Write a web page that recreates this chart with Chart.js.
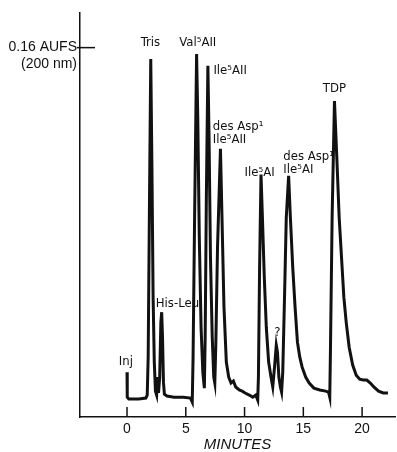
<!DOCTYPE html>
<html>
<head>
<meta charset="utf-8">
<script src="https://cdn.jsdelivr.net/npm/chart.js@4.4.0/dist/chart.umd.min.js"></script>
<style>
html, body { margin: 0; padding: 0; background: #fff; }
#wrap { width: 397px; height: 452px; position: relative; }
</style>
</head>
<body>
<div id="wrap"><canvas id="hplcChart"></canvas></div>
<script>
// retention time (min) and detector response (AU at 200 nm)
var minutes = [0.00,0.02,0.15,1.00,1.60,1.72,1.80,1.90,2.02,2.12,2.22,2.32,2.42,2.52,2.60,2.68,2.78,2.88,2.95,3.02,
	3.10,3.18,3.40,4.00,4.80,5.40,5.55,5.62,5.75,5.92,6.02,6.15,6.30,6.45,6.58,6.65,6.75,6.88,6.98,7.10,
	7.25,7.38,7.47,7.55,7.70,7.95,8.08,8.25,8.45,8.65,8.85,9.05,9.25,9.55,9.80,10.05,10.40,10.70,10.95,11.12,
	11.18,11.28,11.40,11.52,11.68,11.85,12.05,12.25,12.40,12.55,12.70,12.80,12.92,13.05,13.15,13.25,13.40,13.55,13.75,13.90,
	14.10,14.30,14.50,14.70,14.90,15.20,15.50,15.90,16.40,16.90,17.15,17.25,17.30,17.45,17.65,17.85,18.05,18.25,18.45,18.65,
	18.90,19.20,19.50,19.80,20.10,20.40,20.70,21.00,21.40,21.80,22.20];
var absorbance = [0.0194,0.0086,0.0078,0.0078,0.0082,0.0095,0.0259,0.0864,0.1551,0.1080,0.0518,0.0238,0.0112,0.0095,0.0173,0.0104,0.0173,0.0410,0.0454,0.0346,
	0.0151,0.0099,0.0091,0.0086,0.0086,0.0082,0.0065,0.0259,0.0864,0.1572,0.1296,0.0778,0.0389,0.0194,0.0125,0.0346,0.0950,0.1521,0.1210,0.0691,
	0.0346,0.0173,0.0147,0.0302,0.0734,0.1162,0.0864,0.0475,0.0238,0.0173,0.0147,0.0156,0.0130,0.0117,0.0112,0.0104,0.0095,0.0086,0.0095,0.0073,
	0.0173,0.0648,0.1050,0.0864,0.0605,0.0389,0.0238,0.0173,0.0130,0.0216,0.0311,0.0281,0.0173,0.0130,0.0108,0.0194,0.0518,0.0864,0.1045,0.0864,
	0.0648,0.0475,0.0324,0.0259,0.0216,0.0173,0.0147,0.0125,0.0117,0.0112,0.0108,0.0086,0.0259,0.0864,0.1369,0.1123,0.0864,0.0691,0.0518,0.0410,
	0.0302,0.0225,0.0181,0.0164,0.0160,0.0160,0.0147,0.0130,0.0112,0.0104,0.0104];

var xTickValues = [0, 5, 10, 15, 20];
var aufsValue = 0.16;
var aufsLabel = ['0.16 AUFS', '(200 nm)'];

// peak names and where they sit (min, AU)
var peakNames = [['Tris'], ['Val\u2075AII'], ['Ile\u2075AII'], ['des Asp\u00b9', 'Ile\u2075AII'], ['Ile\u2075AI'],
	['des Asp\u00b9', 'Ile\u2075AI'], ['TDP'], ['His-Leu'], ['Inj'], ['?']];
var peakNameTimes = [2.0, 4.45, 7.35, 7.3, 10.0, 13.3, 17.65, 2.45, -0.1, 12.8];
var peakNameLevels = [0.162, 0.162, 0.150, 0.1258, 0.1058, 0.1127, 0.1421, 0.0492, 0.0238, 0.0367];
var peakNameAlign = ['center', 'left', 'left', 'left', 'left', 'left', 'center', 'left', 'center', 'center'];

var points = [];
for (var i = 0; i < minutes.length; i++) {
	points.push({x: minutes[i], y: absorbance[i]});
}

var labelFont = '13px "Liberation Sans Narrow", "DejaVu Sans Condensed", "Liberation Sans", sans-serif';

var decorPlugin = {
	id: 'decor',
	afterDraw: function(chart) {
		var ctx = chart.ctx;
		var xs = chart.scales.x;
		var ys = chart.scales.y;
		var area = chart.chartArea;
		ctx.save();
		ctx.strokeStyle = '#111';
		ctx.lineWidth = 1.5;
		// inward x ticks
		xTickValues.forEach(function(v) {
			var px = xs.getPixelForValue(v);
			ctx.beginPath();
			ctx.moveTo(px, area.bottom);
			ctx.lineTo(px, area.bottom - 10);
			ctx.stroke();
		});
		// full scale mark
		var py = ys.getPixelForValue(aufsValue);
		ctx.beginPath();
		ctx.moveTo(area.left - 3, py);
		ctx.lineTo(area.left + 15, py);
		ctx.stroke();
		ctx.fillStyle = '#111';
		ctx.font = '14px "Liberation Sans", Arial, sans-serif';
		ctx.textAlign = 'right';
		ctx.textBaseline = 'middle';
		ctx.fillText(aufsLabel[0], area.left - 3, py);
		ctx.fillText(aufsLabel[1], area.left - 3, py + 17);
		// peak names
		ctx.font = labelFont;
		for (var k = 0; k < peakNames.length; k++) {
			var lx = xs.getPixelForValue(peakNameTimes[k]);
			var ly = ys.getPixelForValue(peakNameLevels[k]);
			ctx.textAlign = peakNameAlign[k];
			for (var j = 0; j < peakNames[k].length; j++) {
				ctx.fillText(peakNames[k][j], lx, ly + j * 13);
			}
		}
		ctx.restore();
	}
};

var ctx = document.getElementById('hplcChart').getContext('2d');
var hplcChart = new Chart(ctx, {
	type: 'line',
	data: {
		datasets: [{
			data: points,
			borderColor: '#111',
			borderWidth: 3,
			pointRadius: 0,
			tension: 0,
			fill: false
		}]
	},
	options: {
		responsive: true,
		maintainAspectRatio: false,
		animation: false,
		layout: { padding: { top: 13, right: 2, left: 0, bottom: 0 } },
		plugins: {
			legend: { display: false },
			tooltip: { enabled: false }
		},
		scales: {
			x: {
				type: 'linear',
				min: -4,
				max: 22.8,
				afterBuildTicks: function(scale) {
					scale.ticks = xTickValues.map(function(v) { return {value: v}; });
				},
				afterFit: function(scale) { scale.height = 35; },
				grid: { display: false, drawTicks: false },
				border: { display: true, color: '#111', width: 1.5 },
				ticks: {
					color: '#111',
					padding: 4,
					maxRotation: 0,
					font: { family: '"Liberation Sans", Arial, sans-serif', size: 14 }
				},
				title: {
					display: true,
					text: 'MINUTES',
					color: '#111',
					padding: 0,
					font: { family: '"Liberation Sans", Arial, sans-serif', size: 15, style: 'italic', lineHeight: 1 }
				}
			},
			y: {
				min: 0,
				max: 0.175,
				afterFit: function(scale) { scale.width = 80; },
				grid: { display: false, drawTicks: false },
				border: { display: true, color: '#111', width: 1.5 },
				ticks: { display: false }
			}
		}
	},
	plugins: [decorPlugin]
});
</script>
</body>
</html>
